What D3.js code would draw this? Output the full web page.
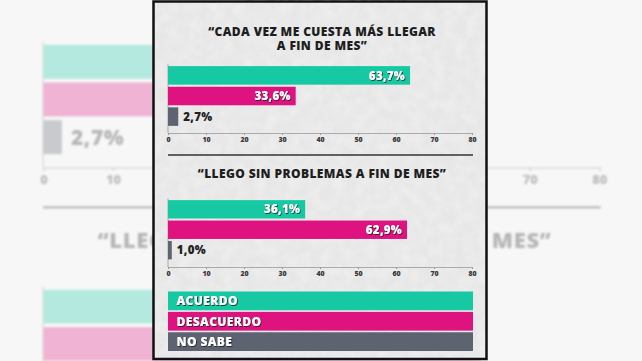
<!DOCTYPE html>
<html>
<head>
<meta charset="utf-8">
<script src="https://cdn.jsdelivr.net/npm/d3@7"></script>
<style>
  html, body { margin: 0; padding: 0; background: #f6f6f6; }
  svg { display: block; font-family: "Open Sans", "Lato", sans-serif; }
</style>
</head>
<body>
<svg id="chart" width="642" height="361"></svg>
<script>
// data
const categories = ["ACUERDO", "DESACUERDO", "NO SABE"];
const colors = ["#17c9a3", "#df137f", "#5e6371"];
const title1 = ["“CADA VEZ ME CUESTA MÁS LLEGAR", "A FIN DE MES”"];
const title2 = ["“LLEGO SIN PROBLEMAS A FIN DE MES”"];
const values1 = [63.7, 33.6, 2.7];
const values2 = [36.1, 62.9, 1.0];
const tickValues = [0, 10, 20, 30, 40, 50, 60, 70, 80];

const svg = d3.select("#chart");
const fmt = v => d3.format(".1f")(v).replace(".", ",") + "%";

const defs = svg.append("defs");
defs.append("filter").attr("id", "shadow")
  .attr("x", "-10%").attr("y", "-20%").attr("width", "130%").attr("height", "160%")
  .append("feDropShadow")
  .attr("dx", 0.8).attr("dy", 0.9).attr("stdDeviation", 0.25)
  .attr("flood-color", "#1b1b1b").attr("flood-opacity", 0.9);
defs.append("filter").attr("id", "soft")
  .append("feGaussianBlur").attr("stdDeviation", 1.1);
const grain = defs.append("filter").attr("id", "grain")
  .attr("x", 0).attr("y", 0).attr("width", "100%").attr("height", "100%");
grain.append("feTurbulence").attr("type", "fractalNoise")
  .attr("baseFrequency", 0.09).attr("numOctaves", 3).attr("seed", 4);
grain.append("feColorMatrix").attr("type", "matrix")
  .attr("values", "0 0 0 0 1  0 0 0 0 1  0 0 0 0 1  0 0 0 0.55 -0.18");
grain.append("feComposite").attr("in2", "SourceGraphic").attr("operator", "in");

const x = d3.scaleLinear().domain([0, 80]).range([168, 472]);

function drawBars(g, values, top, bottom, axisY) {
  const y = d3.scaleBand().domain(categories).range([top, bottom])
    .paddingInner(0.1).paddingOuter(0.03);

  g.append("line")
    .attr("x1", x(0)).attr("x2", x(0))
    .attr("y1", top - 1).attr("y2", axisY)
    .attr("stroke", "#9a9a9a").attr("stroke-width", 0.8);

  const rows = categories.map((c, i) => ({cat: c, v: values[i], color: colors[i]}));
  g.selectAll("rect.bar").data(rows).join("rect")
    .attr("class", "bar")
    .attr("x", x(0))
    .attr("y", d => y(d.cat))
    .attr("width", d => x(d.v) - x(0))
    .attr("height", y.bandwidth())
    .attr("fill", d => d.color);

  g.selectAll("text.val").data(rows).join("text")
    .attr("class", "val")
    .attr("x", d => d.v < 10 ? x(d.v) + 5 : x(d.v) - 5)
    .attr("y", d => y(d.cat) + y.bandwidth() / 2)
    .attr("dy", "0.36em")
    .attr("text-anchor", d => d.v < 10 ? "start" : "end")
    .attr("font-size", 11.5).attr("font-weight", 800).attr("letter-spacing", 0.3)
    .attr("fill", d => d.v < 10 ? "#222" : "#fff")
    .attr("filter", d => d.v < 10 ? null : "url(#shadow)")
    .text(d => fmt(d.v));

  const axis = g.append("g")
    .attr("transform", `translate(0,${axisY})`)
    .call(d3.axisBottom(x).tickValues(tickValues).tickSize(2).tickPadding(2));
  axis.select(".domain").attr("stroke", "#9a9a9a").attr("stroke-width", 0.8);
  axis.selectAll(".tick line").attr("stroke", "#9a9a9a");
  axis.selectAll(".tick text")
    .attr("font-size", 7).attr("font-weight", 800).attr("fill", "#3a3a3a")
    .attr("font-family", "'Open Sans', sans-serif");
}

function drawTitle(g, lines, y0) {
  g.append("text")
    .attr("text-anchor", "middle")
    .attr("font-size", 12).attr("font-weight", 800).attr("fill", "#1e1e1e")
    .attr("letter-spacing", 0.4)
    .selectAll("tspan").data(lines).join("tspan")
    .attr("x", 322).attr("y", (d, i) => y0 + i * 13.5)
    .text(d => d);
}

function drawPanel(g, withLegend) {
  drawTitle(g, title1, 36);
  drawBars(g.append("g"), values1, 65.5, 126.5, 133);

  g.append("line")
    .attr("x1", 168).attr("x2", 473).attr("y1", 155).attr("y2", 155)
    .attr("stroke", "#333").attr("stroke-width", 1.3);

  drawTitle(g, title2, 177.5);
  drawBars(g.append("g"), values2, 199.5, 260, 267);

  if (!withLegend) return;
  const legend = g.append("g");
  const ly = d3.scaleBand().domain(categories).range([291.5, 351]).paddingInner(0.08);
  legend.selectAll("rect").data(categories).join("rect")
    .attr("x", 168).attr("y", d => ly(d))
    .attr("width", 473 - 168).attr("height", ly.bandwidth())
    .attr("fill", (d, i) => colors[i]);
  legend.selectAll("text").data(categories).join("text")
    .attr("x", 176.5).attr("y", d => ly(d) + ly.bandwidth() / 2)
    .attr("dy", "0.36em")
    .attr("font-size", 12).attr("font-weight", 800).attr("fill", "#fff")
    .attr("letter-spacing", 0.4)
    .attr("filter", "url(#shadow)")
    .text(d => d);
}

// faded enlarged copy behind the panel
svg.append("rect").attr("width", 642).attr("height", 361).attr("fill", "#f7f7f7");
const back = svg.append("g")
  .attr("opacity", 0.3)
  .attr("filter", "url(#soft)")
  .append("g")
  .attr("transform", "translate(-264,-76) scale(1.828)");
drawPanel(back, false);

// foreground panel
svg.append("rect")
  .attr("x", 153.5).attr("y", 1.5).attr("width", 333).attr("height", 357.5)
  .attr("fill", "#e7e7e7");
svg.append("rect")
  .attr("x", 153.5).attr("y", 1.5).attr("width", 333).attr("height", 357.5)
  .attr("fill", "#fff").attr("filter", "url(#grain)");
const front = svg.append("g");
drawPanel(front, true);
svg.append("rect")
  .attr("x", 153.5).attr("y", 1.5).attr("width", 333).attr("height", 357.5)
  .attr("fill", "none").attr("stroke", "#111").attr("stroke-width", 2.5);
</script>
</body>
</html>
